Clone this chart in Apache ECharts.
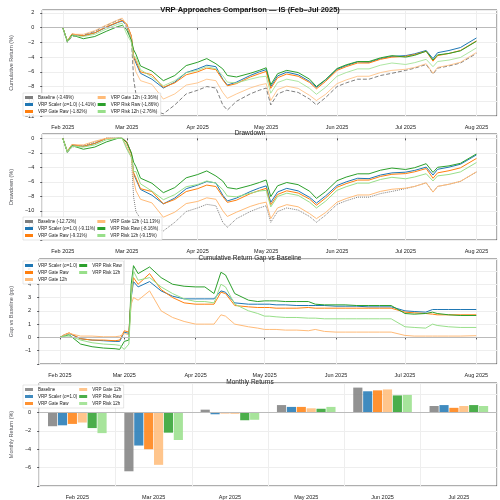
<!DOCTYPE html><html><head><meta charset="utf-8"><script src="https://cdn.jsdelivr.net/npm/echarts@6/dist/echarts.min.js"></script>
<style>html,body{margin:0;padding:0}#c{width:500px;height:500px}</style></head><body><div id="c"></div><script>
const dates=["02-01","02-03","02-05","02-10","02-15","02-20","02-25","02-27","03-01","03-03","03-04","03-05","03-07","03-12","03-17","03-22","03-27","04-01","04-05","04-09","04-12","04-14","04-18","04-24","04-28","05-01","05-03","05-06","05-10","05-15","05-20","05-23","05-27","06-01","06-05","06-10","06-15","06-20","06-25","07-01","07-05","07-10","07-13","07-15","07-20","07-25","08-01"];
const baseline=[0,-2.0,-1.2,-1.0,-0.5,0.3,1.0,1.2,0,-1.5,-7,-9,-10,-11.2,-11.7,-10.5,-9,-8.5,-8,-8.2,-10.5,-11.2,-10,-9,-8.5,-8.2,-10.5,-9,-8.5,-8.8,-9.7,-10.5,-9.5,-8,-7.5,-7,-7,-6.5,-6.2,-5.8,-5.5,-5,-6.3,-5.5,-5.2,-4.8,-3.5];
const gapScaler=[0,0.2,0.3,-0.1,-0.2,-0.25,-0.3,-0.3,0.4,0.3,3.0,4.2,3.8,4.2,3.5,3.1,2.9,2.9,2.9,2.9,3.5,3.4,2.6,2.5,2.5,2.5,2.5,2.45,2.45,2.4,2.4,2.4,2.4,2.35,2.35,2.35,2.3,2.3,2.3,2.0,1.95,1.9,2.1,2.1,2.1,2.1,2.1];
const gapGateRaw=[0,0.2,0.35,-0.1,-0.2,-0.2,-0.25,-0.2,0.5,0.4,3.2,4.5,4.0,4.8,3.6,3.0,2.6,2.5,2.5,2.5,3.4,3.3,2.4,2.3,2.25,2.25,2.25,2.2,2.2,2.2,2.25,2.2,2.2,2.2,2.2,2.2,2.2,2.2,2.2,1.9,1.85,1.8,1.75,1.7,1.7,1.7,1.7];
const gapGate12h=[0,0.2,0.3,0.1,0.1,0.05,0.05,0.1,0.3,0.2,2.5,3.0,2.8,3.5,2.0,1.5,1.2,1.0,1.0,1.0,1.7,1.6,1.0,0.8,0.7,0.6,0.6,0.6,0.55,0.55,0.5,0.6,0.45,0.4,0.4,0.4,0.4,0.4,0.4,0.15,0.1,0.1,0.1,0.1,0.1,0.1,0.13];
const gapRiskRaw=[0,0.1,0.2,-0.5,-0.7,-0.8,-0.85,-0.9,-0.3,-0.2,4.0,5.4,4.8,5.3,4.5,4.0,3.85,3.8,3.8,3.3,4.9,4.7,3.3,2.8,2.7,2.75,2.75,2.75,2.7,2.7,2.7,2.5,2.45,2.45,2.45,2.4,2.4,2.4,2.4,1.8,1.75,1.8,1.9,1.8,1.7,1.65,1.65];
const gapRisk12h=[0,0.1,0.1,-0.2,-0.4,-0.5,-0.55,-0.6,-0.9,-0.5,3.0,5.0,4.3,4.5,3.8,3.3,2.9,2.7,2.7,2.6,4.0,3.8,2.5,2.0,1.8,1.6,1.6,1.55,1.5,1.5,1.45,1.45,1.4,1.4,1.4,1.4,1.4,1.4,1.4,0.8,0.75,0.7,1.0,0.9,0.8,0.75,0.75];
const months=["Feb 2025","Mar 2025","Apr 2025","May 2025","Jun 2025","Jul 2025"];
const mBaseline=[-1.5,-6.4,0.3,0.8,2.7,0.7];
const mScaler=[-1.4,-3.6,-0.2,0.6,2.3,0.8];
const mGateRaw=[-1.25,-4.0,-0.1,0.6,2.4,0.5];
const mGate12h=[-1.1,-5.7,-0.15,0.45,2.5,0.7];
const mRiskRaw=[-1.7,-2.2,-0.85,0.4,1.85,0.8];
const mRisk12h=[-2.25,-3.0,-0.8,0.6,1.9,0.7];
const names=["Baseline","VRP Scaler (σ=1.0)","VRP Gate Raw","VRP Gate 12h","VRP Risk Raw","VRP Risk 12h"];
const cumLbl=["(-3.49%)","(-1.41%)","(-1.82%)","(-3.36%)","(-1.86%)","(-2.76%)"];
const ddLbl=["(-12.72%)","(-9.11%)","(-9.31%)","(-11.13%)","(-8.16%)","(-9.15%)"];
const colors=["#7f7f7f","#1f77b4","#ff7f0e","#ffbb78","#2ca02c","#98df8a"];
const gaps=[null,gapScaler,gapGateRaw,gapGate12h,gapRiskRaw,gapRisk12h];
const monthly=[mBaseline,mScaler,mGateRaw,mGate12h,mRiskRaw,mRisk12h];
const ts=dates.map(d=>new Date("2025-"+d+"T00:00:00Z").getTime());
const cum=gaps.map(g=>baseline.map((b,i)=>g?b+g[i]:b));
const dd=cum.map(c=>{let m=1;return c.map(v=>{const e=1+v/100;m=Math.max(m,e);return (e/m-1)*100;});});
const grids=[{top:10,bottom:384},{top:134,bottom:260},{top:259,bottom:136},{top:383,bottom:11}].map(g=>({left:22,right:3,top:g.top,bottom:g.bottom,show:true,borderColor:'#333',borderWidth:0.8}));
const xmin=new Date("2025-01-23T00:00:00Z").getTime(),xmax=new Date("2025-08-10T00:00:00Z").getTime();
const fs=5.5;
const xAxes=[0,1,2].map(i=>({type:'time',gridIndex:i,min:xmin,max:xmax,splitLine:{show:true,lineStyle:{color:'#eee'}},axisLine:{show:false},axisTick:{length:2},axisLabel:{fontSize:fs,color:'#222',formatter:v=>{const d=new Date(v);return d.getUTCDate()===1?["Jan","Feb","Mar","Apr","May","Jun","Jul","Aug"][d.getUTCMonth()]+" 2025":""}}}));
xAxes.push({type:'category',gridIndex:3,data:months,axisLine:{show:false},axisTick:{show:false},splitLine:{show:true,lineStyle:{color:'#eee'}},axisLabel:{fontSize:fs,color:'#222'}});
const ycfg=(i,min,max,itv,name,hideBelow)=>({type:'value',gridIndex:i,min,max,interval:itv,name,nameLocation:'middle',nameGap:12,nameTextStyle:{fontSize:fs},axisLine:{show:false},axisTick:{show:true,length:2},splitLine:{lineStyle:{color:'#eee'}},axisLabel:{fontSize:fs,color:'#222',showMaxLabel:false,formatter:v=>v<hideBelow?'':String(v).replace('-','−')}});
const yAxes=[ycfg(0,-12,2.4,2,'Cumulative Return (%)',-12.5),ycfg(1,-14,0.6,2,'Drawdown (%)',-13),ycfg(2,-2,5.9,1,'Gap vs Baseline (pp)',-1.5),ycfg(3,-8,3.2,2,'Monthly Return (%)',-7)];
const zl={silent:true,symbol:'none',label:{show:false},lineStyle:{color:'#bbb',type:'solid',width:1},data:[{yAxis:0}]};
const series=[];
names.forEach((n,k)=>{
  series.push({name:n+" "+cumLbl[k],type:'line',xAxisIndex:0,yAxisIndex:0,symbol:'none',z:k===0?1:2,data:ts.map((t,i)=>[t,cum[k][i]]),lineStyle:{color:colors[k],width:k===3||k===5?0.8:1,type:k===0?'dashed':'solid'},itemStyle:{color:colors[k]},markLine:k===0?zl:undefined});
  series.push({name:n+" "+ddLbl[k],type:'line',xAxisIndex:1,yAxisIndex:1,symbol:'none',data:ts.map((t,i)=>[t,dd[k][i]]),lineStyle:{color:colors[k],width:1,type:k===0?'dotted':'solid'},itemStyle:{color:colors[k]}});
  if(k>0)series.push({name:n,type:'line',xAxisIndex:2,yAxisIndex:2,symbol:'none',data:ts.map((t,i)=>[t,gaps[k][i]]),lineStyle:{color:colors[k],width:1},itemStyle:{color:colors[k]},markLine:k===1?zl:undefined});
  series.push({name:n+"\u200b",type:'bar',xAxisIndex:3,yAxisIndex:3,data:monthly[k],barWidth:'12%',barGap:'8%',itemStyle:{color:colors[k],opacity:0.85},markLine:k===0?zl:undefined});
});
const lg=(data,left,top,h)=>({data,left,top,height:h,orient:'vertical',itemWidth:8,itemHeight:3,itemGap:2,textStyle:{fontSize:4.5,color:'#222'},backgroundColor:'rgba(255,255,255,0.85)',borderColor:'#ccc',borderWidth:0.5,padding:2,icon:'rect'});
const opt={animation:false,backgroundColor:'#fff',
title:[{text:'VRP Approaches Comparison — IS (Feb–Jul 2025)',left:'center',top:1,textStyle:{fontSize:7.5,fontWeight:'bold',color:'#111'}},
{text:'Drawdown',left:'center',top:125,textStyle:{fontSize:6.5,fontWeight:'normal',color:'#222'}},
{text:'Cumulative Return Gap vs Baseline',left:'center',top:250,textStyle:{fontSize:6.5,fontWeight:'normal',color:'#222'}},
{text:'Monthly Returns',left:'center',top:374,textStyle:{fontSize:6.5,fontWeight:'normal',color:'#222'}}],
legend:[lg(names.map((n,k)=>n+" "+cumLbl[k]),23,93,20),lg(names.map((n,k)=>n+" "+ddLbl[k]),23,217,20),lg(names.slice(1),23,261,20),lg(names.map(n=>n+"\u200b"),23,385,20)],
grid:grids,xAxis:xAxes,yAxis:yAxes,series};
echarts.init(document.getElementById('c'),null,{renderer:'canvas'}).setOption(opt);
</script></body></html>
